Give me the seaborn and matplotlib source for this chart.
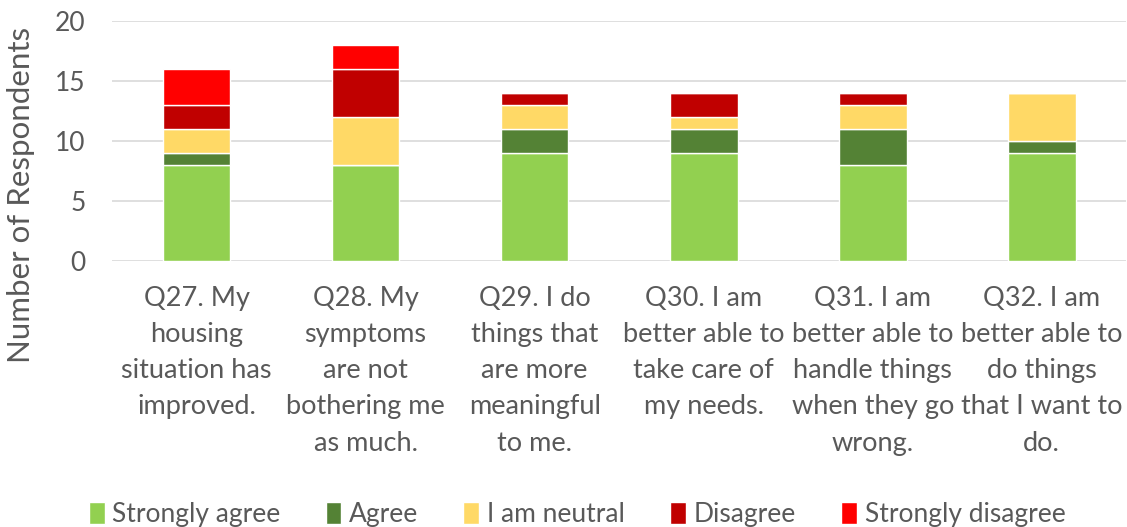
import pandas as pd
import matplotlib.pyplot as plt
import seaborn as sns

questions = [
    "Q27. My\nhousing\nsituation has\nimproved.",
    "Q28. My\nsymptoms\nare not\nbothering me\nas much.",
    "Q29. I do\nthings that\nare more\nmeaningful\nto me.",
    "Q30. I am\nbetter able to\ntake care of\nmy needs.",
    "Q31. I am\nbetter able to\nhandle things\nwhen they go\nwrong.",
    "Q32. I am\nbetter able to\ndo things\nthat I want to\ndo.",
]
strongly_agree = [8, 8, 9, 9, 8, 9]
agree = [1, 0, 2, 2, 3, 1]
neutral = [2, 4, 2, 1, 2, 4]
disagree = [2, 4, 1, 2, 1, 0]
strongly_disagree = [3, 2, 0, 0, 0, 0]

series = {
    "Strongly agree": strongly_agree,
    "Agree": agree,
    "I am neutral": neutral,
    "Disagree": disagree,
    "Strongly disagree": strongly_disagree,
}
colors = ["#92D050", "#548235", "#FFD966", "#C00000", "#FF0000"]

sns.set_style("white")
plt.rcParams['font.family'] = ['Lato', 'DejaVu Sans']
text_color = "#595959"

fig = plt.figure(figsize=(11.27, 5.27), dpi=100)
ax = fig.add_axes([0.0994, 0.505, 0.9, 0.455])

bottom = [0] * len(questions)
for (name, vals), col in zip(series.items(), colors):
    df = pd.DataFrame({"q": questions, "v": vals})
    sns.barplot(data=df, x="q", y="v", color=col, bottom=bottom, width=0.4,
                label=name, ax=ax, saturation=1)
    bottom = [b + v for b, v in zip(bottom, vals)]

handles, labels = ax.get_legend_handles_labels()
if ax.get_legend() is not None:
    ax.get_legend().remove()

ax.set_ylim(0, 20)
ax.set_yticks([0, 5, 10, 15, 20])
ax.set_xlim(-0.5, 5.5)
ax.yaxis.grid(True, color="#D9D9D9", linewidth=1.2)
ax.set_axisbelow(True)
for s in ax.spines.values():
    s.set_visible(False)
ax.tick_params(axis="y", length=0, labelsize=19, colors=text_color, pad=19)
ax.tick_params(axis="x", length=0, labelsize=19.5, colors=text_color, pad=18)
for lbl in ax.get_xticklabels():
    lbl.set_linespacing(1.56)
ax.set_xlabel("")
ax.set_ylabel("Number of Respondents", fontsize=22.5, color=text_color)
ax.yaxis.set_label_coords(-0.076, 0.275)

fig.legend(handles, labels, loc="lower center", bbox_to_anchor=(0.512, -0.045), ncol=5,
           frameon=False, fontsize=19, labelcolor=text_color, handlelength=0.6,
           handleheight=0.9, handletextpad=0.3, columnspacing=1.7)

fig.savefig("out.png", dpi=100)
